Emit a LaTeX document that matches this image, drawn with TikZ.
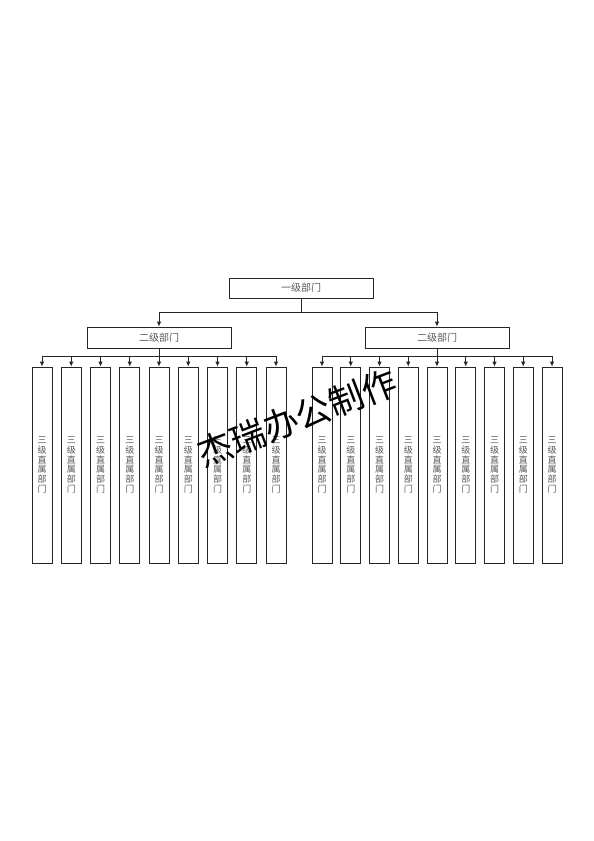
\documentclass[tikz,border=0pt]{standalone}
\usepackage{fontspec}
\newfontfamily\cjk{Noto Sans CJK SC}
\usetikzlibrary{arrows.meta}

\begin{document}
\begin{tikzpicture}[
	x = 1pt, y = -1pt,
	dept/.style args = {#1 and #2}{
		rectangle, draw=black!85, line width=0.8pt,
		minimum width=#1, minimum height=#2,
		inner sep=0pt, text=black!65,
		font=\cjk\fontsize{10}{10}\selectfont
	},
	unit/.style = {
		dept=20pt and 196pt,
		align=center,
		font=\cjk\fontsize{9}{9.7}\selectfont
	},
	link/.style = {draw=black!85, line width=0.8pt},
	arr/.style = {link, -{Latex[length=5pt,width=4.5pt]}},
	stampstyle/.style = {
		rotate=21, text=black,
		font=\cjk\fontsize{35}{35}\selectfont
	}
]
	\useasboundingbox (0,0) rectangle (594,841);

	% first level
	\node [dept=144pt and 20pt] (top) at (301,288) {一级部门};
	\coordinate (bus-top) at (301,312);
	\draw [link] (top) -- (bus-top);

	% second level
	\node [dept=144pt and 21pt] (sec-1) at (159,337.5) {二级部门};
	\node [dept=144pt and 21pt] (sec-2) at (437,337.5) {二级部门};
	\draw [arr] (bus-top) -| (sec-1);
	\draw [arr] (bus-top) -| (sec-2);

	% third level
	\coordinate (bus-1) at (159,356);
	\coordinate (bus-2) at (437,356);
	\draw [link] (sec-1) -- (bus-1);
	\draw [link] (sec-2) -- (bus-2);
	\foreach \i in {0,...,8} {
		\node [unit] (ter-1-\i) at (42+29.25*\i,465) {三\\级\\直\\属\\部\\门};
		\node [unit] (ter-2-\i) at (322+28.75*\i,465) {三\\级\\直\\属\\部\\门};
		\draw [arr] (bus-1) -| (ter-1-\i);
		\draw [arr] (bus-2) -| (ter-2-\i);
	}

	% watermark
	\node [stampstyle] (stamp) at (297,418) {杰瑞办公制作};
\end{tikzpicture}
\end{document}
